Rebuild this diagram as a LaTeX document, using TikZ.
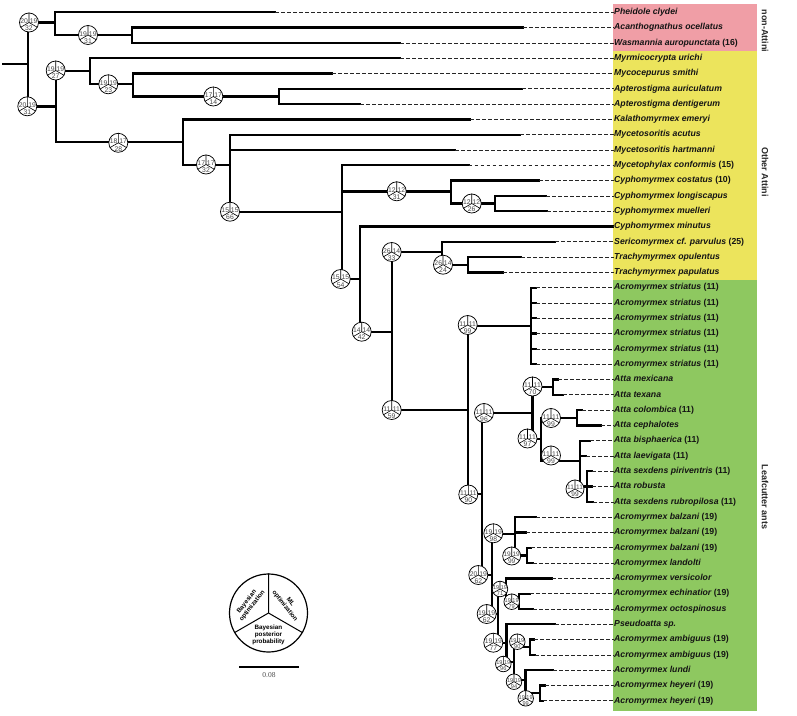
\documentclass[tikz,border=0pt]{standalone}
\usepackage{fontspec}
\setmainfont{Liberation Sans}
\newfontfamily\serifnum{Liberation Serif}
\definecolor{pinkc}{RGB}{240,158,166}
\definecolor{yelc}{RGB}{236,228,92}
\definecolor{grnc}{RGB}{142,200,96}
\tikzset{
  br/.style={line width=2.3pt, line cap=rect},
  dsh/.style={line width=0.75pt, dash pattern=on 3.6pt off 2.4pt, black!85},
  lab/.style={anchor=west, inner sep=0pt, text height=6.3pt, text depth=1.8pt,
    font=\fontsize{8.7}{10}\selectfont\bfseries\itshape, text=black!92},
  grp/.style={rotate=-90, inner sep=0pt, font=\fontsize{9}{10}\selectfont\bfseries, text=black!85},
  bpc/.style={circle, draw, line width=0.75pt, fill=white, inner sep=0pt},
  bpl/.style={line width=0.6pt},
  bpt/.style={inner sep=0pt, text=black!72},
  legt/.style={inner sep=0pt, align=center, font=\fontsize{6.3}{7}\selectfont\bfseries}
}
\newcommand\leaf[5]{%
  \node[lab] (L#1) at (614,#2) {#5};
  \coordinate (s#1) at (#3,#2);
  \coordinate (e#1) at (#4,#2);
  \draw[br] (s#1) -- (e#1);
  \draw[dsh] (e#1) -- (L#1.west);
}
\newcommand\hb[3]{\draw[br] (#2,#1) -- (#3,#1);}
\newcommand\vb[3]{\draw[br] (#1,#2) -- (#1,#3);}
% name, x, y, left, right, bottom, diameter, font size
\newcommand\bp[8]{%
  \node[bpc, minimum size=#7pt] (#1) at (#2,#3) {};
  \draw[bpl] (#1.center) -- (#1.north) (#1.center) -- (#1.210) (#1.center) -- (#1.330);
  \node[bpt, font=\fontsize{#8}{#8}\selectfont] (#1a) at ({#2-0.25*#7},{#3-0.07*#7}) {#4};
  \node[bpt, font=\fontsize{#8}{#8}\selectfont] (#1b) at ({#2+0.25*#7},{#3-0.07*#7}) {#5};
  \node[bpt, font=\fontsize{#8}{#8}\selectfont] (#1c) at ({#2},{#3+0.31*#7}) {#6};
}
\begin{document}
\begin{tikzpicture}[x=1pt,y=-1pt]
\useasboundingbox (0,0) rectangle (797,715);
% coloured group boxes
\fill[pinkc] (613,3.5) rectangle (757,50.6);
\fill[yelc] (613,50.6) rectangle (757,280);
\fill[grnc] (613,280) rectangle (757,711);
\node[grp] (g1) at (765,31) {non-Attini};
\node[grp] (g2) at (765,172) {Other Attini};
\node[grp] (g3) at (765,497) {Leafcutter ants};
% internal branches
\hb{64.3}{3}{28} \vb{28}{22.5}{106.5}
\hb{22.5}{28}{55} \vb{55}{12.3}{35.25}
\hb{35.25}{55}{132} \vb{132}{27.6}{42.9}
\hb{106.5}{28}{55.7} \vb{55.7}{70.7}{142.3}
\hb{70.7}{55.7}{90} \vb{90}{58.2}{84.3}
\hb{84.3}{90}{133} \vb{133}{73.5}{96.45}
\hb{96.45}{133}{279.3} \vb{279.3}{88.8}{104.1}
\hb{142.3}{55.7}{183} \vb{183}{119.4}{165}
\hb{165}{183}{230} \vb{230}{134.7}{211.7}
\hb{211.7}{230}{341.7} \vb{341.7}{165.3}{279}
\hb{191.5}{341.7}{451} \vb{451}{180.6}{203.55}
\hb{203.55}{451}{495.3} \vb{495.3}{195.9}{211.2}
\hb{279}{341.7}{360} \vb{360}{226.5}{331.7}
\hb{331.7}{360}{391.7} \vb{391.7}{252.3}{410}
\hb{252.3}{391.7}{441.7} \vb{441.7}{241.8}{264.75}
\hb{264.75}{441.7}{468.3} \vb{468.3}{257.1}{272.4}
\hb{410}{391.7}{467.7} \vb{467.7}{325.95}{494}
\hb{325.95}{467.7}{531} \vb{531}{287.7}{364.2}
\hb{494}{467.7}{482} \vb{482}{413}{575}
\hb{413}{482}{532.5} \vb{532.5}{387.15}{439}
\hb{387.15}{532.5}{553.3} \vb{553.3}{379.5}{394.8}
\hb{439}{532.5}{541} \vb{541}{417.75}{461}
\hb{417.75}{541}{576.7} \vb{576.7}{410.1}{425.4}
\hb{461}{541}{580} \vb{580}{440.7}{486.6}
\hb{486.6}{580}{587.3} \vb{587.3}{471.3}{501.9}
\hb{575}{482}{491.7} \vb{491.7}{534}{614}
\hb{534}{491.7}{515} \vb{515}{517.2}{555.45}
\hb{555.45}{515}{526.7} \vb{526.7}{547.8}{563.1}
\hb{614}{491.7}{498.3} \vb{498.3}{589}{642.7}
\hb{589}{498.3}{506} \vb{506}{578.4}{601.35}
\hb{601.35}{506}{519} \vb{519}{593.7}{609}
\hb{642.7}{498.3}{506.5} \vb{506.5}{624.3}{662}
\hb{662}{506.5}{514} \vb{514}{647.25}{680}
\hb{647.25}{514}{530} \vb{530}{639.6}{654.9}
\hb{680}{514}{525.5} \vb{525.5}{670.2}{693.15}
\hb{693.15}{525.5}{540} \vb{540}{685.5}{700.8}
% leaves
\leaf{1}{12.3}{55}{275}{Pheidole clydei}
\leaf{2}{27.6}{132}{523}{Acanthognathus ocellatus}
\leaf{3}{42.9}{132}{400}{Wasmannia auropunctata {\upshape(16)}}
\leaf{4}{58.2}{90}{400}{Myrmicocrypta urichi}
\leaf{5}{73.5}{133}{332}{Mycocepurus smithi}
\leaf{6}{88.8}{279.3}{522}{Apterostigma auriculatum}
\leaf{7}{104.1}{279.3}{360}{Apterostigma dentigerum}
\leaf{8}{119.4}{183}{470}{Kalathomyrmex emeryi}
\leaf{9}{134.7}{230}{520}{Mycetosoritis acutus}
\leaf{10}{150.0}{230}{455}{Mycetosoritis hartmanni}
\leaf{11}{165.3}{341.7}{468.7}{Mycetophylax conformis {\upshape(15)}}
\leaf{12}{180.6}{451}{539}{Cyphomyrmex costatus {\upshape(10)}}
\leaf{13}{195.9}{495.3}{546}{Cyphomyrmex longiscapus}
\leaf{14}{211.2}{495.3}{547}{Cyphomyrmex muelleri}
\leaf{15}{226.5}{360}{613}{Cyphomyrmex minutus}
\leaf{16}{241.8}{441.7}{555}{Sericomyrmex cf. parvulus {\upshape(25)}}
\leaf{17}{257.1}{468.3}{521}{Trachymyrmex opulentus}
\leaf{18}{272.4}{468.3}{503}{Trachymyrmex papulatus}
\leaf{19}{287.7}{531}{536}{Acromyrmex striatus {\upshape(11)}}
\leaf{20}{303.0}{531}{536}{Acromyrmex striatus {\upshape(11)}}
\leaf{21}{318.3}{531}{536}{Acromyrmex striatus {\upshape(11)}}
\leaf{22}{333.6}{531}{536}{Acromyrmex striatus {\upshape(11)}}
\leaf{23}{348.9}{531}{536}{Acromyrmex striatus {\upshape(11)}}
\leaf{24}{364.2}{531}{536}{Acromyrmex striatus {\upshape(11)}}
\leaf{25}{379.5}{553.3}{558}{Atta mexicana}
\leaf{26}{394.8}{553.3}{563}{Atta texana}
\leaf{27}{410.1}{576.7}{582}{Atta colombica {\upshape(11)}}
\leaf{28}{425.4}{576.7}{601}{Atta cephalotes}
\leaf{29}{440.7}{580}{590}{Atta bisphaerica {\upshape(11)}}
\leaf{30}{456.0}{580}{586}{Atta laevigata {\upshape(11)}}
\leaf{31}{471.3}{587.3}{592}{Atta sexdens piriventris {\upshape(11)}}
\leaf{32}{486.6}{587.3}{592}{Atta robusta}
\leaf{33}{501.9}{587.3}{593}{Atta sexdens rubropilosa {\upshape(11)}}
\leaf{34}{517.2}{515}{536}{Acromyrmex balzani {\upshape(19)}}
\leaf{35}{532.5}{515}{526}{Acromyrmex balzani {\upshape(19)}}
\leaf{36}{547.8}{526.7}{531}{Acromyrmex balzani {\upshape(19)}}
\leaf{37}{563.1}{526.7}{533}{Acromyrmex landolti}
\leaf{38}{578.4}{506}{552}{Acromyrmex versicolor}
\leaf{39}{593.7}{519}{530}{Acromyrmex echinatior {\upshape(19)}}
\leaf{40}{609.0}{519}{533}{Acromyrmex octospinosus}
\leaf{41}{624.3}{506.5}{555}{Pseudoatta sp.}
\leaf{42}{639.6}{530}{534}{Acromyrmex ambiguus {\upshape(19)}}
\leaf{43}{654.9}{530}{535}{Acromyrmex ambiguus {\upshape(19)}}
\leaf{44}{670.2}{525.5}{553}{Acromyrmex lundi}
\leaf{45}{685.5}{540}{545}{Acromyrmex heyeri {\upshape(19)}}
\leaf{46}{700.8}{540}{543}{Acromyrmex heyeri {\upshape(19)}}
% support pies
\bp{nA}{29}{22.5}{20}{19}{32}{19}{6.8}
\bp{nB}{88}{35}{19}{19}{31}{19}{6.8}
\bp{nC}{55.7}{70.5}{19}{19}{27}{19}{6.8}
\bp{nD}{108.3}{84.3}{19}{19}{23}{19}{6.8}
\bp{nE}{27.3}{106.3}{20}{19}{31}{19}{6.8}
\bp{nF}{118.3}{142.8}{18}{17}{28}{19}{6.8}
\bp{nG}{213.3}{96.5}{17}{17}{14}{19}{6.8}
\bp{nH}{206}{164.5}{17}{17}{32}{19}{6.8}
\bp{nI}{230}{211.7}{15}{15}{66}{19}{6.8}
\bp{nJ}{340.7}{279}{15}{15}{54}{19}{6.8}
\bp{nK}{396.7}{191.3}{12}{12}{31}{19}{6.8}
\bp{nL}{471.7}{203.5}{12}{12}{26}{19}{6.8}
\bp{nM}{361.7}{331.7}{14}{14}{42}{19}{6.8}
\bp{nN}{391.7}{252}{26}{14}{33}{19}{6.8}
\bp{nP}{443}{264.7}{26}{14}{24}{19}{6.8}
\bp{nO}{391.7}{410}{11}{11}{59}{19}{6.8}
\bp{nQ}{467.7}{325}{11}{11}{99}{19}{6.8}
\bp{nR}{468.3}{494.5}{11}{11}{90}{19}{6.8}
\bp{nS}{484}{413}{11}{11}{96}{19}{6.8}
\bp{nU}{532.5}{386.5}{11}{11}{70}{19}{6.8}
\bp{nV}{527.5}{438.5}{11}{11}{97}{19}{6.8}
\bp{nW}{551}{418}{11}{11}{99}{19}{6.8}
\bp{nX}{551}{455.5}{11}{11}{99}{19}{6.8}
\bp{nY}{575}{489}{11}{11}{99}{18}{6.5}
\bp{nT}{478.3}{575}{20}{19}{62}{19}{6.8}
\bp{nZ}{493.3}{533.3}{19}{19}{98}{19}{6.8}
\bp{nAB}{511.7}{556}{19}{19}{99}{18}{6.5}
\bp{nAA}{486.7}{614}{19}{19}{62}{19}{6.8}
\bp{nAD}{500}{589}{19}{19}{71}{15.5}{5.6}
\bp{nAE}{511.7}{601.7}{19}{19}{79}{15.5}{5.6}
\bp{nAC}{493.3}{642.7}{19}{19}{77}{19}{6.8}
\bp{nAG}{517.3}{641.7}{19}{19}{90}{15.5}{5.6}
\bp{nAF}{503.3}{664}{19}{19}{96}{15.5}{5.6}
\bp{nAH}{514}{681.7}{19}{19}{94}{15.5}{5.6}
\bp{nAI}{525.7}{698.3}{19}{19}{99}{15.5}{5.6}
% legend
\node[circle, draw, line width=1.2pt, minimum size=78pt, inner sep=0pt] (leg) at (268.5,613) {};
\draw[line width=1pt] (leg.center) -- (leg.north) (leg.center) -- (leg.210) (leg.center) -- (leg.330);
\node[legt, rotate=52] (legA) at (249.5,604) {Bayesian\\optimization};
\node[legt, rotate=-52] (legB) at (287.5,604) {ML\\optimization};
\node[legt] (legC) at (268.5,634.5) {Bayesian\\posterior\\probability};
% scale bar
\coordinate (sb1) at (239.3,666.7);
\coordinate (sb2) at (299.3,666.7);
\draw[line width=2.3pt] (sb1) -- (sb2);
\node[inner sep=0pt, font=\serifnum\fontsize{7.5}{8}\selectfont, text=black!70] (sbt) at (269,675.5) {0.08};
\end{tikzpicture}
\end{document}
